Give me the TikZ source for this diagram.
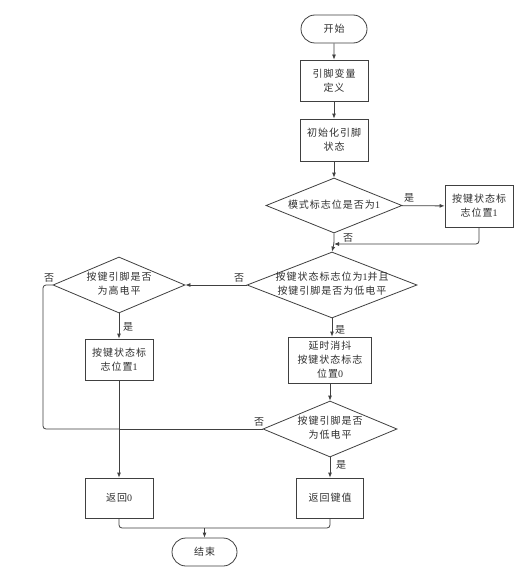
\documentclass[tikz,border=0pt]{standalone}
\usepackage{fontspec}
\setmainfont{Liberation Serif}
\newfontfamily\cjk[LetterSpace=10]{Noto Sans CJK SC}
\usetikzlibrary{shapes.geometric,shapes.misc,arrows.meta}
\newcommand\zh[1]{{\cjk #1}}
\newcommand\dtext[1]{\makebox[0pt]{\raisebox{-2.5pt}[0pt][0pt]{\begin{tabular}{@{}c@{}}#1\end{tabular}}}}
\definecolor{linec}{HTML}{404040}
\definecolor{txt}{HTML}{303030}
\tikzset{
  base/.style={draw=linec, line width=0.8pt, text=txt, font=\fontsize{10}{14}\selectfont, align=center},
  box/.style={base, rectangle, minimum width=68pt, inner sep=1pt},
  term/.style={base, rounded rectangle, minimum width=68pt, minimum height=28pt, inner sep=1pt},
  dec/.style={base, diamond, inner sep=0pt},
  conn/.style={draw=linec, line width=0.8pt, rounded corners=3pt},
  arr/.style={conn, -{Latex[length=5pt,width=4pt]}},
  lab/.style={text=txt, font=\fontsize{10}{12}\selectfont, inner sep=0pt}
}
\begin{document}
\begin{tikzpicture}[x=1pt,y=-1pt]
\useasboundingbox[fill=white] (0,0) rectangle (530,586);
\node[term] (start) at (334,29) {\zh{开始}};
\node[box, minimum height=41pt] (b1) at (334,80.5) {\zh{引脚变量}\\\zh{定义}};
\node[box, minimum height=42pt] (b2) at (334,140) {\zh{初始化引脚}\\\zh{状态}};
\node[dec, minimum width=136pt, minimum height=55pt] (d1) at (334,205.5) {\dtext{\zh{模式标志位是否为}1}};
\node[box, minimum height=42pt] (b3) at (479,206) {\zh{按键状态标}\\\zh{志位置}1};
\node[dec, minimum width=170pt, minimum height=66pt] (d2) at (332,285) {\dtext{\zh{按键状态标志位为}1\zh{并且}\\\zh{按键引脚是否为低电平}}};
\node[dec, minimum width=132pt, minimum height=56pt] (d3) at (119,285) {\dtext{\zh{按键引脚是否}\\\zh{为高电平}}};
\node[box, minimum height=41pt] (b4) at (119,359.5) {\zh{按键状态标}\\\zh{志位置}1};
\node[box, minimum width=83pt, minimum height=46pt] (b5) at (330,360) {\zh{延时消抖}\\\zh{按键状态标志}\\\zh{位置}0};
\node[dec, minimum width=134pt, minimum height=56pt] (d4) at (330,429) {\dtext{\zh{按键引脚是否}\\\zh{为低电平}}};
\node[box, minimum height=40pt] (r0) at (119,498) {\zh{返回}0};
\node[box, minimum width=67pt, minimum height=40pt] (rv) at (330,498) {\zh{返回键值}};
\node[term, minimum width=67pt] (end) at (204.5,552) {\zh{结束}};

\coordinate (m1) at (334,244);
\coordinate (m2) at (119,429);
\coordinate (m3) at (204.5,528);

\draw[arr] (start) -- (b1);
\draw[arr] (b1) -- (b2);
\draw[arr] (b2) -- (d1);
\draw[arr] (d1) -- (b3);
\draw[arr] (d1.south) -- (m1) -- (d2.north);
\draw[arr] (b3.south) |- (m1);
\draw[arr] (d2.west) -- (d3.east);
\draw[arr] (d3.south) -- (b4.north);
\draw[arr] (d2.south) -- (d2.south |- b5.north);
\draw[arr] (b5.south) -- (d4.north);
\draw[arr] (d4.south) -- (rv.north);
\draw[conn] (d3.west) -- (43,285) -- (43,429) -- (m2);
\draw[conn] (d4.west) -- (m2);
\draw[arr] (b4.south) -- (r0.north);
\draw[conn] (r0.south) |- (m3);
\draw[conn] (rv.south) |- (m3);
\draw[arr] (m3) -- (end.north);

\node[lab] (l1) at (409,198) {\zh{是}};
\node[lab] (l2) at (348,238) {\zh{否}};
\node[lab] (l3) at (239,278) {\zh{否}};
\node[lab] (l4) at (49,278) {\zh{否}};
\node[lab] (l5) at (128,327) {\zh{是}};
\node[lab] (l6) at (340,330) {\zh{是}};
\node[lab] (l7) at (259,422) {\zh{否}};
\node[lab] (l8) at (341,465) {\zh{是}};
\end{tikzpicture}
\end{document}
